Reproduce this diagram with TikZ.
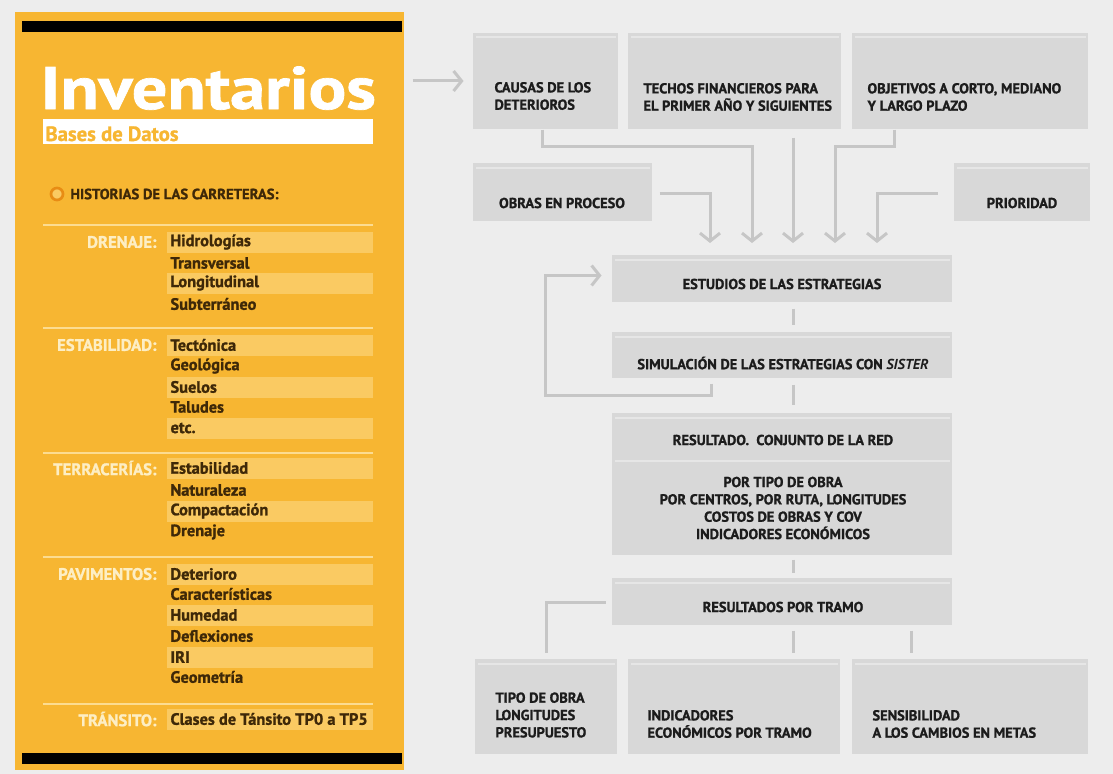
\documentclass[tikz,border=0pt]{standalone}
\usepackage{fontspec}
\setmainfont{PT Sans}[BoldFeatures={FakeBold=1.2}]
\usetikzlibrary{arrows.meta,fit,calc}

\definecolor{bgcol}{RGB}{237,237,237}
\definecolor{boxcol}{RGB}{216,216,216}
\definecolor{boxhi}{RGB}{230,230,230}
\definecolor{linecol}{RGB}{198,198,198}
\definecolor{txtcol}{RGB}{28,28,28}
\definecolor{orangecol}{RGB}{247,182,50}
\definecolor{bandcol}{RGB}{250,202,98}
\definecolor{sepcol}{RGB}{252,220,145}
\definecolor{labcol}{RGB}{253,238,196}
\definecolor{itemcol}{RGB}{62,40,8}
\definecolor{ringcol}{RGB}{232,140,20}

\tikzset{every picture/.style={line width=0.75pt}}
\tikzset{
  box/.style={fill=boxcol, inner sep=0pt},
  boxtext/.style={text=txtcol, inner sep=0pt, align=left, font=\bfseries\fontsize{10.8}{13}\selectfont},
  boxtextc/.style={boxtext, align=center},
  link/.style={draw=linecol, line width=2.25pt},
  arrowline/.style={link, -{Straight Barb[length=6pt,width=15pt]}},
  seclabel/.style={anchor=east, inner sep=0pt, text=labcol, font=\bfseries\fontsize{12.5}{13}\selectfont},
  item/.style={anchor=west, inner sep=0pt, text=itemcol, font=\bfseries\fontsize{12.3}{13}\selectfont},
  sepline/.style={draw=sepcol, line width=1.5pt}
}

\begin{document}
\begin{tikzpicture}[x=0.75pt,y=0.75pt,yscale=-1,xscale=1]
	
	%Background
	\fill[bgcol] (0,0) rectangle (1113,774);
	\useasboundingbox (0,0) rectangle (1113,774);
	
	%Shape: Panel [left]
	\node[fill=orangecol, inner sep=0pt, fit={(15,12) (404,770)}] (panel) {};
	\node[fill=black, inner sep=0pt, fit={(22,21) (402,32)}] (bartop) {};
	\node[fill=black, inner sep=0pt, fit={(22,753) (402,764)}] (barbot) {};
	
	% Text Node
	\node[anchor=base west, inner sep=0pt, text=white, font=\bfseries\fontsize{45}{45}\selectfont] (titulo) at (40,109) {\scalebox{1.17}[1]{Inventarios}};
	\node[fill=white, inner sep=0pt, fit={(43,119) (373,144)}] (bases) {};
	\node[anchor=base west, inner sep=0pt, text=orangecol, font=\bfseries\fontsize{15.5}{16}\selectfont] (basestxt) at (45,141) {Bases de Datos};
	
	%Shape: Circle
	\node[circle, draw=ringcol, line width=2pt, fill=bandcol, minimum size=9pt, inner sep=0pt] (bullet) at (57,194) {};
	\node[anchor=west, inner sep=0pt, text=itemcol, font=\bfseries\fontsize{11}{12}\selectfont] (historias) at (70,194) {HISTORIAS DE LAS CARRETERAS:};
	
	% separators
	\foreach \s in {225,328,453,557,704}
	\draw[sepline] (43,\s) -- (373,\s);
	
	% rows
	\foreach \y/\txt/\band in {242/Hidrologías/1, 263/Transversal/0, 283/Longitudinal/1, 304/Subterráneo/0,
		345/Tectónica/1, 366/Geológica/0, 387/Suelos/1, 407/Taludes/0, 428/etc./1,
		468/Estabilidad/1, 490/Naturaleza/0, 511/Compactación/1, 532/Drenaje/0,
		574/Deterioro/1, 594/Características/0, 615/Humedad/1, 636/Deflexiones/0, 657/IRI/1, 677/Geometría/0,
		719/Clases de Tánsito TP0 a TP5/1} {
		\ifnum\band=1 \fill[bandcol] (167,\y-10.5) rectangle (373,\y+10.5); \fi
		\node[item] (row\y) at (170,\y) {\txt};
	}
	
	% Text Node
	\node[seclabel] (drenaje) at (157,242) {DRENAJE:};
	\node[seclabel] (estabilidad) at (157,345) {ESTABILIDAD:};
	\node[seclabel] (terracerias) at (157,468) {TERRACERÍAS:};
	\node[seclabel] (pavimentos) at (157,574) {PAVIMENTOS:};
	\node[seclabel] (transito) at (157,719) {TRÁNSITO:};
	
	%Shape: Rectangle [boxes]
	\node[box, fit={(473,33) (618,129)}] (causas) {};
	\node[box, fit={(628,33) (841,129)}] (techos) {};
	\node[box, fit={(852,33) (1088,129)}] (objetivos) {};
	\node[box, fit={(473,163) (652,221)}] (obras) {};
	\node[box, fit={(954,163) (1090,221)}] (prioridad) {};
	\node[box, fit={(612,255) (952,302)}] (estudios) {};
	\node[box, fit={(612,332) (952,378)}] (simul) {};
	\node[box, fit={(612,413) (952,456)}] (result) {};
	\node[box, fit={(612,456) (952,555)}] (detalle) {};
	\node[box, fit={(612,578) (952,625)}] (tramo) {};
	\node[box, fit={(475,659) (617,754)}] (tipo) {};
	\node[box, fit={(628,659) (840,754)}] (indic) {};
	\node[box, fit={(852,659) (1088,754)}] (sensib) {};
	\foreach \b in {causas,techos,objetivos,obras,prioridad,estudios,simul,result,detalle,tramo,tipo,indic,sensib}
	\draw[boxhi, line width=1.5pt] ($(\b.north west)+(3,5)$) -- ($(\b.north east)+(-3,5)$);
	
	% Text Node
	\node[boxtext, anchor=west] (tcausas) at (494,96) {CAUSAS DE LOS\\DETERIOROS};
	\node[boxtext, anchor=west] (ttechos) at (643,97) {TECHOS FINANCIEROS PARA\\EL PRIMER AÑO Y SIGUIENTES};
	\node[boxtext, anchor=west] (tobjetivos) at (867,97) {OBJETIVOS A CORTO, MEDIANO\\Y LARGO PLAZO};
	\node[boxtextc] (tobras) at (562,203) {OBRAS EN PROCESO};
	\node[boxtextc] (tprioridad) at (1022,203) {PRIORIDAD};
	\node[boxtextc] (testudios) at (782,284) {ESTUDIOS DE LAS ESTRATEGIAS};
	\node[boxtextc] (tsimul) at (783,363) {SIMULACIÓN DE LAS ESTRATEGIAS CON \textit{SISTER}};
	\node[boxtextc] (tresult) at (783,440) {RESULTADO.\ \ CONJUNTO DE LA RED};
	\node[boxtextc] (tdetalle) at (783,508) {POR TIPO DE OBRA\\POR CENTROS, POR RUTA, LONGITUDES\\COSTOS DE OBRAS Y COV\\INDICADORES ECONÓMICOS};
	\node[boxtextc] (ttramo) at (783,607) {RESULTADOS POR TRAMO};
	\node[boxtext, anchor=west] (ttipo) at (495,715) {TIPO DE OBRA\\LONGITUDES\\PRESUPUESTO};
	\node[boxtext, anchor=west] (tindic) at (647,724) {INDICADORES\\ECONÓMICOS POR TRAMO};
	\node[boxtext, anchor=west] (tsensib) at (872,724) {SENSIBILIDAD\\A LOS CAMBIOS EN METAS};
	
	% arrow ends
	\coordinate (a1) at (710,243);
	\coordinate (a2) at (752,243);
	\coordinate (a3) at (793,243);
	\coordinate (a4) at (835,243);
	\coordinate (a5) at (877,243);
	\coordinate (loop) at (545,395);
	\coordinate (s3) at (911,640);
	
	%Connectors
	\draw[arrowline] (panel.east |- causas.west) ++(8,0) -- ++(51,0);
	\draw[arrowline] (causas.south west) ++(70,0) -- ++(0,17) -| (a2);
	\draw[arrowline] (techos.south -| a3) ++(0,8) -- (a3);
	\draw[arrowline] (objetivos.south west) ++(43,0) -- ++(0,17) -| (a4);
	\draw[arrowline] (obras.east) ++(7,1) -| (a1);
	\draw[arrowline] (prioridad.west) ++(-16,1) -| (a5);
	\draw[arrowline] (simul.south west) ++(100,5) |- (loop) |- ($(estudios.west)+(-10,-3)$);
	\draw[link, shorten <=4.5pt, shorten >=5.25pt] (estudios.south -| a3) -- (simul.north -| a3);
	\draw[link, shorten <=4.5pt, shorten >=6pt] (simul.south -| a3) -- (result.north -| a3);
	\draw[link, shorten <=3pt, shorten >=3.75pt] (detalle.south -| a3) -- (tramo.north -| a3);
	\draw[link, shorten >=4.5pt] (tramo.west) ++(-6,1) -| (tipo.north);
	\draw[link, shorten <=3.75pt, shorten >=4.5pt] (tramo.south -| a3) -- (indic.north -| a3);
	\draw[link, shorten <=3.75pt, shorten >=4.5pt] (tramo.south -| s3) -- (sensib.north -| s3);
	
\end{tikzpicture}
\end{document}
